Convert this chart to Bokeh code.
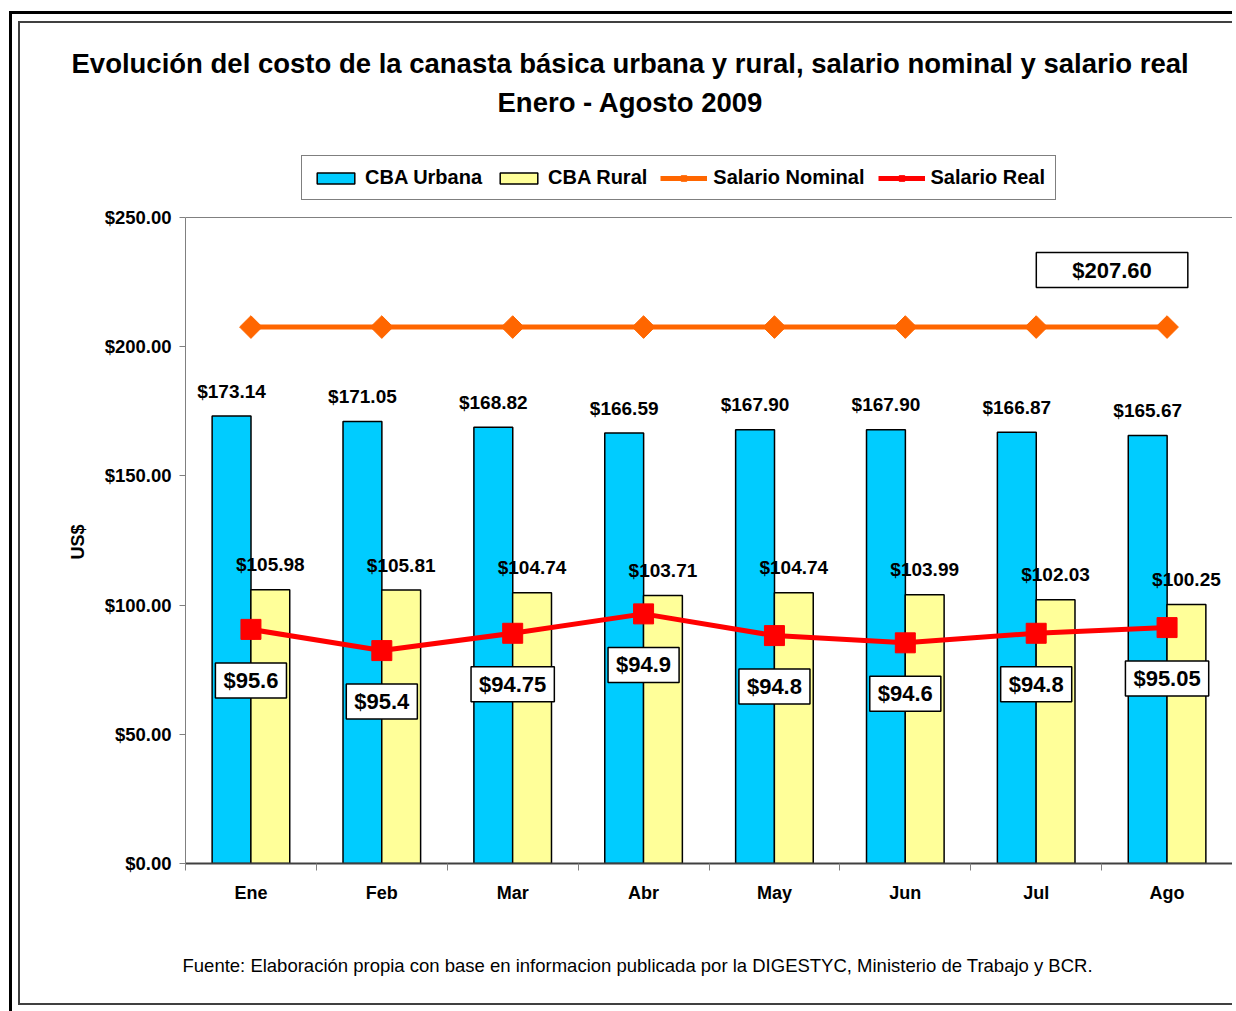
from bokeh.plotting import figure
from bokeh.layouts import column
from bokeh.models import (Range1d, FixedTicker, NumeralTickFormatter, Legend, LegendItem,
                          Span, Title)
from bokeh.core.properties import value
from bokeh.embed import file_html
from bokeh.resources import INLINE

# ---------------- data ----------------
months = ["Ene", "Feb", "Mar", "Abr", "May", "Jun", "Jul", "Ago"]
cba_urbana = [173.14, 171.05, 168.82, 166.59, 167.90, 167.90, 166.87, 165.67]
cba_rural = [105.98, 105.81, 104.74, 103.71, 104.74, 103.99, 102.03, 100.25]
salario_nominal = [207.60, 207.60, 207.60, 207.60, 207.60, 207.60, 207.60, 207.60]
salario_real = [90.6, 82.4, 89.1, 96.6, 88.2, 85.4, 89.1, 91.3]
salario_real_labels = ["$95.6", "$95.4", "$94.75", "$94.9", "$94.8", "$94.6", "$94.8", "$95.05"]
nominal_label = "$207.60"
y_ticks = [0, 50, 100, 150, 200, 250]
y_max = 250

FONT = "Liberation Sans"
W, H = 1212, 980
# the frame extends above the $250 gridline to host the legend
Y_TOP = y_max + 67 / 2.584

p = figure(width=W, height=H, output_backend="svg", toolbar_location=None,
           title_location=None,
           x_range=Range1d(0, len(months)), y_range=Range1d(0, Y_TOP),
           min_border_left=165, min_border_right=0, min_border_top=127, min_border_bottom=140)
p.grid.visible = False
p.outline_line_color = None
p.background_fill_color = "white"
p.border_fill_color = "white"

centers = [i + 0.5 for i in range(len(months))]
bw = 0.297
urb_x = [c - 0.148 for c in centers]
rur_x = [c + 0.148 for c in centers]

r_urb = p.vbar(x=urb_x, top=cba_urbana, width=bw, fill_color="#00CCFF",
               line_color="black", line_width=1.5)
r_rur = p.vbar(x=rur_x, top=cba_rural, width=bw, fill_color="#FFFF99",
               line_color="black", line_width=1.5)

r_nom_l = p.line(centers, salario_nominal, line_color="#FF6600", line_width=5)
r_nom_m = p.scatter(centers, salario_nominal, marker="square", angle=45, angle_units="deg",
                    size=16, fill_color="#FF6600", line_color="#FF6600")
r_real_l = p.line(centers, salario_real, line_color="#FF0000", line_width=5)
r_real_m = p.scatter(centers, salario_real, marker="square", size=20,
                     fill_color="#FF0000", line_color="#FF0000")

# data labels on bars
p.text(x=urb_x, y=cba_urbana, text=["$%.2f" % v for v in cba_urbana],
       text_align="center", text_baseline="alphabetic", y_offset=-25,
       text_font=value(FONT), text_font_size="19px", text_font_style="bold", text_color="black")
p.text(x=rur_x, y=cba_rural, text=["$%.2f" % v for v in cba_rural],
       text_align="center", text_baseline="alphabetic", y_offset=-25,
       text_font=value(FONT), text_font_size="19px", text_font_style="bold", text_color="black")

# salario real boxed labels
p.text(x=centers, y=salario_real, text=salario_real_labels,
       text_align="center", text_baseline="middle", y_offset=51,
       text_font=value(FONT), text_font_size="22px", text_font_style="bold", text_color="black",
       background_fill_color="white", border_line_color="black", border_line_width=1.5,
       padding=(8, 5))

# salario nominal boxed label
p.text(x=[centers[-1]], y=[salario_nominal[-1]], text=[nominal_label],
       text_align="center", text_baseline="middle", x_offset=-55, y_offset=-57,
       text_font=value(FONT), text_font_size="22px", text_font_style="bold", text_color="black",
       background_fill_color="white", border_line_color="black", border_line_width=1.5,
       padding=(36, 5))

# axes
ya = p.yaxis[0]
ya.ticker = FixedTicker(ticks=y_ticks)
ya.bounds = (0, y_max)
ya.formatter = NumeralTickFormatter(format="$0.00")
ya.major_label_text_font = FONT
ya.major_label_text_font_size = "18.5px"
ya.major_label_text_font_style = "bold"
ya.major_label_text_color = "black"
ya.major_tick_out = 6
ya.major_tick_in = 0
ya.minor_tick_out = 0
ya.minor_tick_in = 0
ya.major_tick_line_color = "#808080"
ya.axis_line_color = "#808080"
ya.major_label_standoff = 8

# y axis title, centred on the 0-250 span (placed as a left-side title)
p.add_layout(Title(text="US$", align="left", offset=304, standoff=27,
                   text_font=FONT, text_font_size="18px", text_font_style="bold",
                   text_color="black"), "left")

xa = p.xaxis[0]
xa.ticker = FixedTicker(ticks=centers, minor_ticks=list(range(len(months) + 1)))
xa.major_label_overrides = {c: m for c, m in zip(centers, months)}
xa.major_tick_line_color = None
xa.major_tick_out = 0
xa.major_tick_in = 0
xa.minor_tick_out = 7
xa.minor_tick_in = 0
xa.minor_tick_line_color = "#808080"
xa.axis_line_color = "#404040"
xa.axis_line_width = 2
xa.major_label_text_font = FONT
xa.major_label_text_font_size = "18px"
xa.major_label_text_font_style = "bold"
xa.major_label_text_color = "black"
xa.major_label_standoff = 12

p.add_layout(Span(location=y_max, dimension="width", line_color="#808080", line_width=1))

# legend (inside the frame, above the $250 line)
legend = Legend(items=[
    LegendItem(label="CBA Urbana", renderers=[r_urb]),
    LegendItem(label="CBA Rural", renderers=[r_rur]),
    LegendItem(label="Salario Nominal", renderers=[r_nom_l, r_nom_m]),
    LegendItem(label="Salario Real", renderers=[r_real_l, r_real_m]),
], orientation="horizontal", location=(116, 663))
legend.glyph_width = 47
legend.glyph_height = 14
legend.label_standoff = 6
legend.spacing = 13
legend.padding = 10
legend.margin = 0
legend.label_text_font = FONT
legend.label_text_font_size = "20px"
legend.label_text_font_style = "bold"
legend.label_text_color = "black"
legend.border_line_color = "black"
legend.border_line_width = 1
legend.background_fill_color = "white"
legend.background_fill_alpha = 1
p.add_layout(legend)

# spacer between frame and titles
p.add_layout(Title(text=" ", text_font_size="1px", standoff=24), "above")
# titles (stacked outward)
p.add_layout(Title(text="Enero - Agosto 2009", align="left", offset=312, standoff=12,
                   text_font=FONT, text_font_size="27.5px", text_font_style="bold",
                   text_color="black"), "above")
p.add_layout(Title(text="Evolución del costo de la canasta básica urbana y rural, salario nominal y salario real",
                   align="left", offset=-114, standoff=0,
                   text_font=FONT, text_font_size="27.5px", text_font_style="bold",
                   text_color="black"), "above")

# footer
p.add_layout(Title(text=" ", text_font_size="1px", standoff=44), "below")
p.add_layout(Title(text="Fuente: Elaboración propia con base en informacion publicada por la DIGESTYC, Ministerio de Trabajo y BCR.",
                   align="left", offset=-3, standoff=0,
                   text_font=FONT, text_font_size="18.5px", text_font_style="normal",
                   text_color="black"), "below")

inner = column(p, styles={"border-left": "2px solid #404040", "border-top": "2px solid #404040",
                          "border-bottom": "2px solid #404040"})
middle = column(inner, styles={"border-left": "3px solid black", "border-top": "3px solid black",
                               "padding-left": "6px", "padding-top": "7px", "padding-bottom": "6px"})
outer = column(middle, styles={"padding-left": "9px", "padding-top": "11px"})

open("out.html", "w").write(file_html(outer, INLINE))
